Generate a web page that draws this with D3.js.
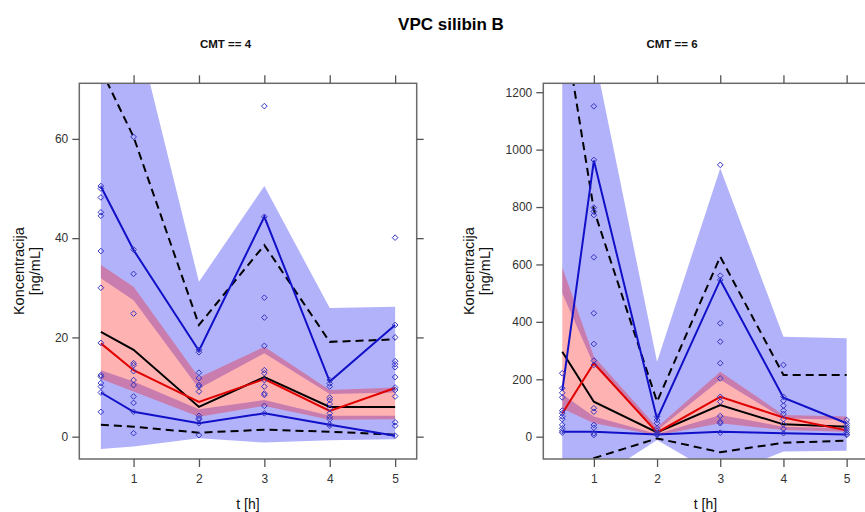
<!DOCTYPE html>
<html><head><meta charset="utf-8">
<script src="https://cdn.jsdelivr.net/npm/d3@7"></script>
<style>body{margin:0;background:#fff;overflow:hidden}svg{display:block;font-family:"Liberation Sans",Arial,sans-serif}</style>
</head><body><svg id="c" width="865" height="512"></svg>
<script>
// ---------- data ----------
const times = [0.5, 1, 2, 3, 4, 5];
const xTicks = [1, 2, 3, 4, 5];
const yTicks4 = [0, 20, 40, 60];
const yTicks6 = [0, 200, 400, 600, 800, 1000, 1200];
const panelTitles = ["CMT == 4", "CMT == 6"];
const mainTitle = "VPC silibin B";
const xLabel = "t [h]";
const yLabel = ["Koncentracija", "[ng/mL]"];

// CMT == 4
const obsP95_4 = [50.4, 37.6, 17.3, 44.3, 11.1, 22.5];
const obsMed_4 = [18.8, 13.4, 7.0, 11.6, 5.2, 9.8];
const obsP5_4  = [8.9, 5.0, 2.7, 4.7, 2.4, 0.2];
const simMed_4 = [21.1, 17.5, 6.0, 12.0, 6.0, 6.0];
const simP95_4 = [74, 60.4, 22.5, 38.6, 19.1, 19.6];
const simP5_4  = [2.4, 2.0, 0.8, 1.4, 1.0, 0.4];
const p95CiLo_4 = [31.9, 27.5, 9.7, 16.8, 8.6, 8.9];
const p95CiHi_4 = [110, 84.6, 31.2, 50.5, 25.9, 26.2];
const medCiLo_4 = [11.6, 9.1, 4.0, 6.2, 3.4, 3.5];
const medCiHi_4 = [34.6, 30.2, 11.9, 18.1, 9.4, 9.9];
const p5CiLo_4  = [-2.5, -2.0, -0.3, -1.2, -0.7, -0.5];
const p5CiHi_4  = [13.4, 11.1, 5.5, 7.4, 4.2, 4.2];
const obs_4 = [
  [50.5, 50.0, 48.2, 45.2, 44.5, 37.4, 30.0, 18.9, 12.4, 12.1, 10.8, 10.1, 8.9, 5.0],
  [60.4, 37.7, 32.8, 24.8, 14.8, 14.4, 13.2, 11.4, 10.4, 8.1, 6.8, 5.0, 0.7],
  [17.5, 17.0, 12.9, 11.8, 10.4, 10.1, 9.1, 4.2, 3.7, 3.5, 2.7, 0.3],
  [66.6, 44.3, 28.0, 24.0, 18.3, 13.4, 12.8, 11.4, 10.1, 8.7, 8.4, 6.2, 4.7],
  [11.4, 10.7, 10.1, 7.9, 7.4, 6.6, 5.7, 4.7, 4.0, 3.5, 2.5, 2.2],
  [40.1, 22.5, 20.0, 15.2, 14.6, 14.0, 12.0, 9.9, 9.4, 8.1, 2.9, 2.2, 0.2]
];

// CMT == 6
const obsP95_6 = [160, 962, 62, 546, 136, 47];
const obsMed_6 = [81, 256, 15, 139, 67, 22];
const obsP5_6  = [17, 17, 8, 17, 12, 8];
const simMed_6 = [296, 122, 15, 110, 43, 35];
const simP95_6 = [1473, 790, 122, 627, 215, 215];
const simP5_6  = [-220, -75, -6, -54, -21, -14];
const p95CiLo_6 = [500, 250, 22, 198, 64, 58];
const p95CiHi_6 = [1500, 1339, 261, 935, 348, 343];
const medCiLo_6 = [98, 47, 5, 47, 23, 17];
const medCiHi_6 = [590, 279, 33, 226, 76, 70];
const p5CiLo_6  = [-300, -155, -11.5, -140, -52, -49];
const p5CiHi_6  = [148, 70, 9, 76, 35, 29];
const obs_6 = [
  [221, 169, 153, 137, 91, 82, 70, 61, 41, 29, 20, 14],
  [1151, 964, 798, 784, 772, 625, 430, 323, 265, 250, 99, 87, 41, 31, 12, 6],
  [70, 58, 47, 29, 21, 14, 9, 6],
  [947, 561, 546, 395, 331, 256, 203, 139, 122, 72, 52, 47, 14],
  [250, 139, 125, 108, 91, 79, 61, 43, 27, 12],
  [58, 47, 38, 31, 23, 15, 9, 6]
];

// ---------- drawing ----------
const svg = d3.select("#c");
const BLUE_BAND = "rgb(178,178,250)";
const PINK_BAND = "rgba(255,0,0,0.3)";

svg.append("text").attr("x", 451).attr("y", 30).attr("text-anchor", "middle")
  .attr("font-size", 17).attr("font-weight", "bold").attr("fill", "#000").text(mainTitle);

const diamond = { draw(ctx, size) { const r = Math.sqrt(size / 2);
  ctx.moveTo(0, -r); ctx.lineTo(r, 0); ctx.lineTo(0, r); ctx.lineTo(-r, 0); ctx.closePath(); } };

function drawPanel(cfg, idx) {
  const x = d3.scaleLinear().domain(cfg.xDomain).range([cfg.left, cfg.right]);
  const y = d3.scaleLinear().domain(cfg.yDomain).range([cfg.bottom, cfg.top]);
  const cid = "clip" + idx;
  svg.append("clipPath").attr("id", cid).append("rect")
    .attr("x", cfg.left).attr("y", cfg.top).attr("width", cfg.right - cfg.left).attr("height", cfg.bottom - cfg.top);
  const g = svg.append("g").attr("clip-path", `url(#${cid})`);

  const band = (lo, hi) => d3.area().x((d, i) => x(times[i])).y0((d, i) => y(lo[i])).y1((d, i) => y(hi[i]))(times);
  const line = arr => d3.line().x((d, i) => x(times[i])).y((d, i) => y(arr[i]))(times);

  g.append("path").attr("d", band(cfg.p95Lo, cfg.p95Hi)).attr("fill", BLUE_BAND);
  g.append("path").attr("d", band(cfg.p5Lo, cfg.p5Hi)).attr("fill", BLUE_BAND);
  g.append("path").attr("d", band(cfg.medLo, cfg.medHi)).attr("fill", PINK_BAND);

  [cfg.simP95, cfg.simP5].forEach(a => g.append("path").attr("d", line(a)).attr("fill", "none")
    .attr("stroke", "#000").attr("stroke-width", 2).attr("stroke-dasharray", "8,5"));
  g.append("path").attr("d", line(cfg.simMed)).attr("fill", "none").attr("stroke", "#000").attr("stroke-width", 2);
  g.append("path").attr("d", line(cfg.obsMed)).attr("fill", "none").attr("stroke", "#e00000").attr("stroke-width", 2);
  [cfg.obsP95, cfg.obsP5].forEach(a => g.append("path").attr("d", line(a)).attr("fill", "none")
    .attr("stroke", "#1010c8").attr("stroke-width", 2));

  const sym = d3.symbol(diamond, 16);
  cfg.obs.forEach((vals, i) => vals.forEach(v => {
    g.append("path").attr("d", sym()).attr("transform", `translate(${x(times[i])},${y(v)})`)
      .attr("fill", "none").attr("stroke", "#3434c4").attr("stroke-width", 1);
  }));

  // box
  svg.append("rect").attr("x", cfg.left).attr("y", cfg.top).attr("width", cfg.right - cfg.left)
    .attr("height", cfg.bottom - cfg.top).attr("fill", "none").attr("stroke", "#6a6a6a").attr("stroke-width", 1.5);

  const styleAxis = s => { s.select(".domain").remove(); s.selectAll(".tick line").attr("stroke", "#555").attr("stroke-width", 1.3);
    s.selectAll("text").attr("fill", "#333").attr("font-size", 12).attr("font-family", '"Liberation Sans",Arial,sans-serif'); };

  svg.append("g").attr("transform", `translate(${cfg.left},0)`)
    .call(d3.axisLeft(y).tickValues(cfg.yTicks).tickSize(7).tickPadding(4).tickFormat(d3.format("d"))).call(styleAxis);
  svg.append("g").attr("transform", `translate(${cfg.right},0)`)
    .call(d3.axisRight(y).tickValues(cfg.yTicks).tickSize(7).tickFormat("")).call(styleAxis);
  svg.append("g").attr("transform", `translate(0,${cfg.top})`)
    .call(d3.axisTop(x).tickValues(xTicks).tickSize(8).tickFormat("")).call(styleAxis);
  svg.append("g").attr("transform", `translate(0,${cfg.bottom})`)
    .call(d3.axisBottom(x).tickValues(xTicks).tickSize(8).tickPadding(7).tickFormat(d3.format("d"))).call(styleAxis);

  svg.append("text").attr("x", cfg.stripX).attr("y", 48).attr("text-anchor", "middle")
    .attr("font-size", 11.5).attr("font-weight", "bold").attr("fill", "#111").text(cfg.title);
  svg.append("text").attr("x", (cfg.left + cfg.right) / 2).attr("y", 509).attr("text-anchor", "middle")
    .attr("font-size", 14).attr("fill", "#111").text(xLabel);
  const yl = svg.append("g").attr("transform", `translate(0,${(cfg.top + cfg.bottom) / 2}) rotate(-90)`);
  yLabel.forEach((t, k) => yl.append("text").attr("x", 0).attr("y", cfg.ylabX[k]).attr("text-anchor", "middle")
    .attr("font-size", 14.5).attr("fill", "#111").text(t));
}

drawPanel({
  title: panelTitles[0], stripX: 225.5, ylabX: [23.5, 40],
  left: 79.3, right: 416.7, top: 83.3, bottom: 459,
  xDomain: [0.17, 5.33], yDomain: [-4.5, 71.2], yTicks: yTicks4,
  obsP95: obsP95_4, obsMed: obsMed_4, obsP5: obsP5_4,
  simMed: simMed_4, simP95: simP95_4, simP5: simP5_4,
  p95Lo: p95CiLo_4, p95Hi: p95CiHi_4, medLo: medCiLo_4, medHi: medCiHi_4, p5Lo: p5CiLo_4, p5Hi: p5CiHi_4,
  obs: obs_4
}, 0);

drawPanel({
  title: panelTitles[1], stripX: 672, ylabX: [473.5, 490],
  left: 543.3, right: 867.5, top: 83.3, bottom: 459,
  xDomain: [0.2, 5.33], yDomain: [-77.7, 1231], yTicks: yTicks6,
  obsP95: obsP95_6, obsMed: obsMed_6, obsP5: obsP5_6,
  simMed: simMed_6, simP95: simP95_6, simP5: simP5_6,
  p95Lo: p95CiLo_6, p95Hi: p95CiHi_6, medLo: medCiLo_6, medHi: medCiHi_6, p5Lo: p5CiLo_6, p5Hi: p5CiHi_6,
  obs: obs_6
}, 1);
</script></body></html>
